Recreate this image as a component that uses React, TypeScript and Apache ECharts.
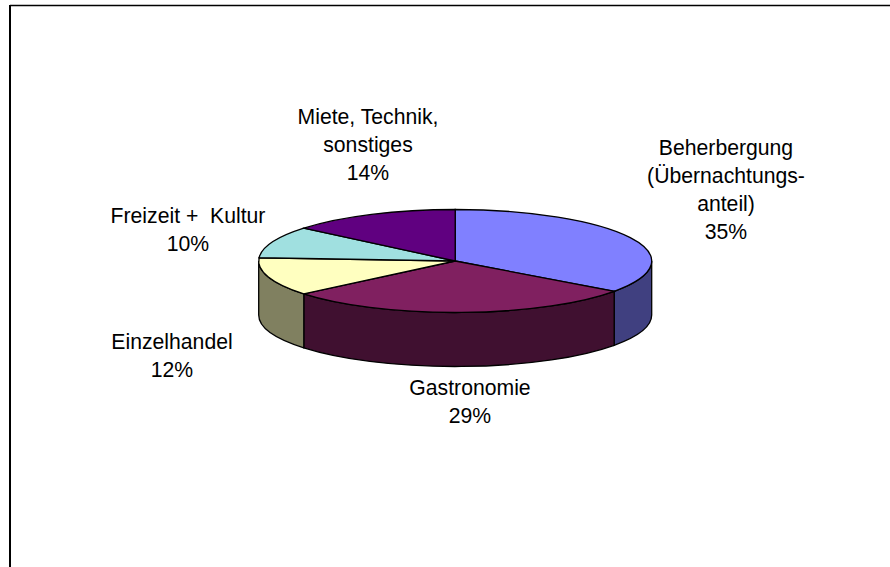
import React, { useEffect, useRef } from "react";
import * as echarts from "echarts";

const categories = ["Beherbergung\n(Übernachtungs-\nanteil)", "Gastronomie", "Einzelhandel", "Freizeit +  Kultur", "Miete, Technik,\nsonstiges"];
const shares = [35, 29, 12, 10, 14];
const topColors = ["#8080FF", "#802060", "#FFFFC0", "#A0E0E0", "#600080"];
const sideColors = ["#404080", "#401030", "#808060", "#507070", "#300040"];
// label anchor: centre x, centre y of the first line, in page pixels
const labelAnchors = [[726, 147], [470, 387.5], [172, 341], [188, 215], [368, 116]];

const CX = 455.2, CY = 261, RX = 196.5, RY = 51.5, DEPTH = 54;
const LINE_H = 28;
const total = shares.reduce((a, b) => a + b, 0);
const px = (t: number) => CX + RX * Math.sin(t);
const py = (t: number) => CY - RY * Math.cos(t);

function renderSlice(params: any, api: any) {
  const i = params.dataIndex;
  const before = shares.slice(0, i).reduce((a, b) => a + b, 0);
  const a0 = (before / total) * 2 * Math.PI;
  const a1 = ((before + api.value(0)) / total) * 2 * Math.PI;
  const style = { stroke: "#000", lineWidth: 1.3 };
  const children: any[] = [];
  const w0 = Math.max(a0, Math.PI / 2), w1 = Math.min(a1, (3 * Math.PI) / 2);
  if (w1 > w0) {
    const d =
      `M${px(w0)} ${py(w0)}A${RX} ${RY} 0 0 1 ${px(w1)} ${py(w1)}` +
      `L${px(w1)} ${py(w1) + DEPTH}A${RX} ${RY} 0 0 0 ${px(w0)} ${py(w0) + DEPTH}Z`;
    children.push({ type: "path", shape: { pathData: d }, style: { ...style, fill: sideColors[i] } });
  }
  const large = a1 - a0 > Math.PI ? 1 : 0;
  const top = `M${CX} ${CY}L${px(a0)} ${py(a0)}A${RX} ${RY} 0 ${large} 1 ${px(a1)} ${py(a1)}Z`;
  children.push({ type: "path", shape: { pathData: top }, style: { ...style, fill: topColors[i] } });
  children.push({
    type: "text",
    style: {
      x: labelAnchors[i][0],
      y: labelAnchors[i][1] - LINE_H / 2,
      text: `${categories[i]}\n${api.value(0)}%`,
      fill: "#000",
      fontSize: 21.2,
      fontFamily: "'Liberation Sans', Arial, sans-serif",
      lineHeight: LINE_H,
      align: "center",
      verticalAlign: "top",
    },
  });
  return { type: "group", children };
}

export default function App() {
  const ref = useRef<HTMLDivElement>(null);
  useEffect(() => {
    const chart = echarts.init(ref.current!, undefined, { renderer: "svg" });
    chart.setOption({
      animation: false,
      backgroundColor: "#fff",
      graphic: [
        { type: "line", shape: { x1: 10, y1: 5.5, x2: 890, y2: 5.5 }, style: { stroke: "#000", lineWidth: 1.6 } },
        { type: "line", shape: { x1: 10, y1: 5, x2: 10, y2: 567 }, style: { stroke: "#000", lineWidth: 2 } },
      ],
      series: [
        {
          type: "custom",
          coordinateSystem: "none",
          data: shares.map((v, i) => ({ name: categories[i], value: [v] })),
          renderItem: renderSlice,
          clip: false,
        },
      ],
    });
    return () => chart.dispose();
  }, []);
  return <div ref={ref} style={{ position: "fixed", left: 0, top: 0, width: 890, height: 567 }} />;
}
